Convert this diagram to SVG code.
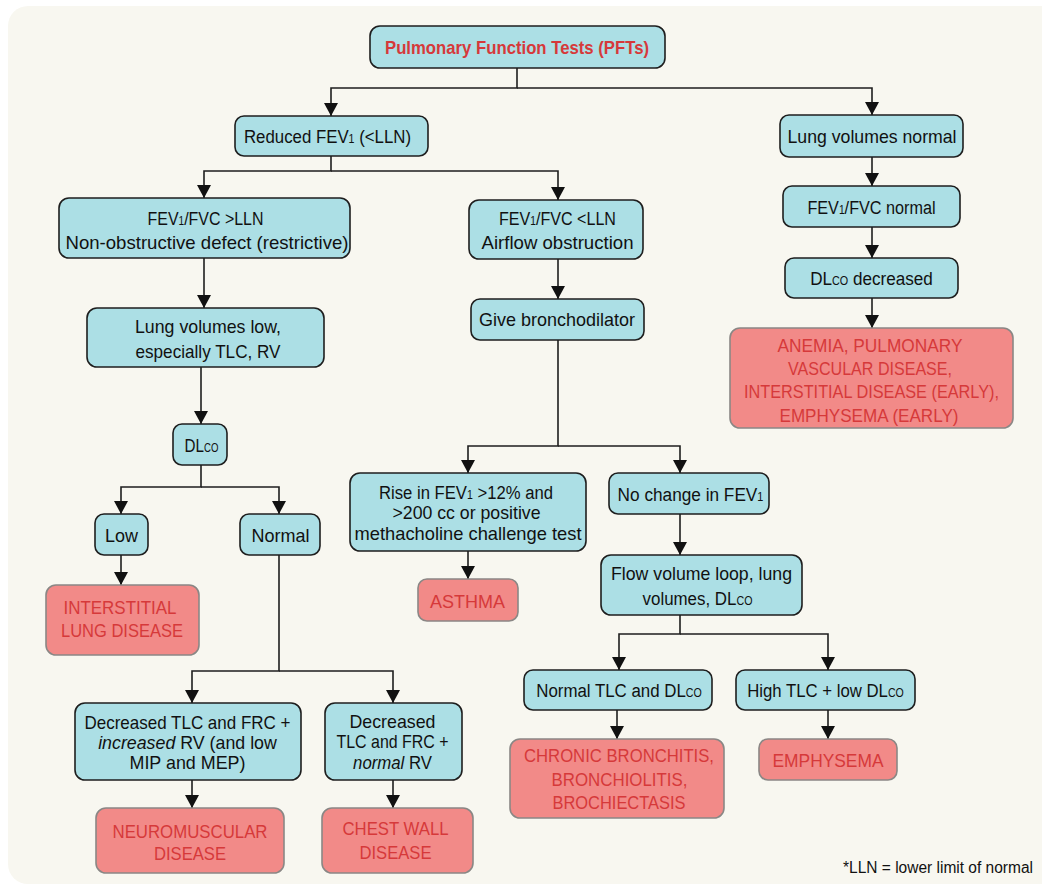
<svg xmlns="http://www.w3.org/2000/svg" width="1042" height="885" viewBox="0 0 1042 885">
<defs>
<marker id="ah" markerWidth="14" markerHeight="14" refX="13" refY="7" orient="auto" markerUnits="userSpaceOnUse"><path d="M0,0 L13,7 L0,14 z" fill="#111"/></marker>
<style>
.bg{fill:#f8f7f0}
.q rect{fill:#acdfe5;stroke:#1e1e1e;stroke-width:1.6}
.r rect{fill:#f28a88;stroke:#8a8785;stroke-width:1.6}
.q text{font-family:"Liberation Sans",Arial,sans-serif;font-size:19px;fill:#111;text-anchor:middle}
.r text{font-family:"Liberation Sans",Arial,sans-serif;font-size:18px;fill:#d6393a;text-anchor:middle}
.t text{font-weight:bold;fill:#d6393a;font-size:18.5px}
.s{font-size:12px}
.i{font-style:italic}
#conn path{fill:none;stroke:#1e1e1e;stroke-width:1.6;marker-end:url(#ah)}
.fn{font-family:"Liberation Sans",Arial,sans-serif;font-size:16px;fill:#111;text-anchor:end}
</style>
</defs>
<rect class="bg" x="8" y="6" width="1060" height="878" rx="20"/>

<g id="conn">
<path d="M517 68 V88 H331 V116"/>
<path d="M517 88 H872 V115"/>
<path d="M331 156 V171 H204 V198"/>
<path d="M331 171 H558 V200"/>
<path d="M204 258 V308"/>
<path d="M558 259 V299"/>
<path d="M201 367 V424"/>
<path d="M201 465 V487 H121 V514"/>
<path d="M201 487 H279 V514"/>
<path d="M121 555 V585"/>
<path d="M279 555 V671 H192 V703"/>
<path d="M279 671 H393 V703"/>
<path d="M192 780 V808"/>
<path d="M393 780 V808"/>
<path d="M558 340 V446 H468 V473"/>
<path d="M558 446 H680 V473"/>
<path d="M468 551 V579"/>
<path d="M680 514 V555"/>
<path d="M680 615 V634 H619 V670"/>
<path d="M680 634 H828 V670"/>
<path d="M617 710 V739"/>
<path d="M828 710 V739"/>
<path d="M872 157 V186"/>
<path d="M872 227 V258"/>
<path d="M872 298 V328"/>
</g>

<g id="pft" class="q t"><rect x="370" y="26" width="295" height="42" rx="10"/><text x="517" y="53.5" textLength="264" lengthAdjust="spacingAndGlyphs">Pulmonary Function Tests (PFTs)</text></g>

<g id="reduced" class="q"><rect x="235" y="116" width="193" height="40" rx="9"/><text transform="translate(327.5 142.5) scale(0.885 1)">Reduced FEV<tspan class="s">1</tspan> (&lt;LLN)</text></g>

<g id="restrictive" class="q"><rect x="59" y="198" width="291" height="60" rx="10"/><text transform="translate(205.5 224.5) scale(0.84 1)">FEV<tspan class="s">1</tspan>/FVC &gt;LLN</text><text x="207" y="249" textLength="283" lengthAdjust="spacingAndGlyphs">Non-obstructive defect (restrictive)</text></g>

<g id="obstruction" class="q"><rect x="469" y="200" width="174" height="59" rx="10"/><text transform="translate(557.5 224.5) scale(0.847 1)">FEV<tspan class="s">1</tspan>/FVC &lt;LLN</text><text x="557.5" y="249" textLength="152" lengthAdjust="spacingAndGlyphs">Airflow obstruction</text></g>

<g id="broncho" class="q"><rect x="471" y="299" width="173" height="41" rx="9"/><text x="557" y="326" textLength="156" lengthAdjust="spacingAndGlyphs">Give bronchodilator</text></g>

<g id="lunglow" class="q"><rect x="87" y="308" width="237" height="59" rx="10"/><text x="208" y="332.5" textLength="146" lengthAdjust="spacingAndGlyphs">Lung volumes low,</text><text x="208" y="357.5" textLength="145" lengthAdjust="spacingAndGlyphs">especially TLC, RV</text></g>

<g id="dlco" class="q"><rect x="173" y="424" width="54" height="41" rx="9"/><text transform="translate(201.5 451.5) scale(0.8 1)">DL<tspan class="s">CO</tspan></text></g>

<g id="low" class="q"><rect x="95" y="514" width="53" height="41" rx="9"/><text x="121.5" y="541.5" textLength="33" lengthAdjust="spacingAndGlyphs">Low</text></g>

<g id="normal" class="q"><rect x="240" y="514" width="80" height="41" rx="9"/><text x="280.5" y="541.5" textLength="58" lengthAdjust="spacingAndGlyphs">Normal</text></g>

<g id="ild" class="r"><rect x="46" y="585" width="153" height="70" rx="10"/><text x="120" y="613.5" textLength="113" lengthAdjust="spacingAndGlyphs">INTERSTITIAL</text><text x="122" y="636.5" textLength="122" lengthAdjust="spacingAndGlyphs">LUNG DISEASE</text></g>

<g id="incrv" class="q"><rect x="75" y="703" width="226" height="77" rx="10"/><text x="187.5" y="728.5" textLength="206" lengthAdjust="spacingAndGlyphs">Decreased TLC and FRC +</text><text transform="translate(187.5 748.5) scale(0.937 1)"><tspan class="i">increased</tspan> RV (and low</text><text x="187.5" y="768.5" textLength="116" lengthAdjust="spacingAndGlyphs">MIP and MEP)</text></g>

<g id="normrv" class="q"><rect x="325" y="703" width="137" height="77" rx="10"/><text x="392.5" y="727.5" textLength="86" lengthAdjust="spacingAndGlyphs">Decreased</text><text x="392.5" y="747.5" textLength="112" lengthAdjust="spacingAndGlyphs">TLC and FRC +</text><text transform="translate(392.5 768.5) scale(0.883 1)"><tspan class="i">normal</tspan> RV</text></g>

<g id="neuro" class="r"><rect x="96" y="808" width="188" height="65" rx="10"/><text x="190" y="837.5" textLength="155" lengthAdjust="spacingAndGlyphs">NEUROMUSCULAR</text><text x="190" y="860" textLength="72" lengthAdjust="spacingAndGlyphs">DISEASE</text></g>

<g id="chest" class="r"><rect x="322" y="808" width="151" height="65" rx="10"/><text x="395.5" y="834.5" textLength="106" lengthAdjust="spacingAndGlyphs">CHEST WALL</text><text x="395.5" y="858.5" textLength="72" lengthAdjust="spacingAndGlyphs">DISEASE</text></g>

<g id="rise" class="q"><rect x="350" y="473" width="236" height="78" rx="10"/><text transform="translate(466 498.5) scale(0.877 1)">Rise in FEV<tspan class="s">1</tspan> &gt;12% and</text><text x="466.5" y="519" textLength="148" lengthAdjust="spacingAndGlyphs">&gt;200 cc or positive</text><text x="468" y="539.5" textLength="227" lengthAdjust="spacingAndGlyphs">methacholine challenge test</text></g>

<g id="asthma" class="r"><rect x="418" y="579" width="100" height="42" rx="9"/><text x="467.5" y="608" textLength="75" lengthAdjust="spacingAndGlyphs">ASTHMA</text></g>

<g id="nochange" class="q"><rect x="609" y="473" width="160" height="41" rx="9"/><text transform="translate(690.5 500.5) scale(0.907 1)">No change in FEV<tspan class="s">1</tspan></text></g>

<g id="flow" class="q"><rect x="601" y="555" width="201" height="60" rx="10"/><text x="701.5" y="580" textLength="181" lengthAdjust="spacingAndGlyphs">Flow volume loop, lung</text><text transform="translate(697.5 605) scale(0.89 1)">volumes, DL<tspan class="s">CO</tspan></text></g>

<g id="normtlc" class="q"><rect x="524" y="670" width="188" height="40" rx="9"/><text transform="translate(619 696.5) scale(0.888 1)">Normal TLC and DL<tspan class="s">CO</tspan></text></g>

<g id="hightlc" class="q"><rect x="736" y="670" width="179" height="40" rx="9"/><text transform="translate(825.5 696.5) scale(0.882 1)">High TLC + low DL<tspan class="s">CO</tspan></text></g>

<g id="chronic" class="r"><rect x="510" y="739" width="214" height="79" rx="10"/><text x="619" y="761.5" textLength="190" lengthAdjust="spacingAndGlyphs">CHRONIC BRONCHITIS,</text><text x="619.5" y="785.5" textLength="136" lengthAdjust="spacingAndGlyphs">BRONCHIOLITIS,</text><text x="619" y="808.5" textLength="133" lengthAdjust="spacingAndGlyphs">BROCHIECTASIS</text></g>

<g id="emphysema" class="r"><rect x="759" y="739" width="138" height="41" rx="9"/><text x="828" y="766.5" textLength="111" lengthAdjust="spacingAndGlyphs">EMPHYSEMA</text></g>

<g id="lvnormal" class="q"><rect x="780" y="115" width="183" height="42" rx="9"/><text x="872" y="142.5" textLength="169" lengthAdjust="spacingAndGlyphs">Lung volumes normal</text></g>

<g id="ratio" class="q"><rect x="783" y="186" width="177" height="41" rx="9"/><text transform="translate(871.5 213.5) scale(0.854 1)">FEV<tspan class="s">1</tspan>/FVC normal</text></g>

<g id="dlcodec" class="q"><rect x="785" y="258" width="173" height="40" rx="9"/><text transform="translate(871.5 284.5) scale(0.9 1)">DL<tspan class="s">CO</tspan> decreased</text></g>

<g id="anemia" class="r"><rect x="730" y="328" width="283" height="100" rx="10"/><text x="870" y="351.5" textLength="185" lengthAdjust="spacingAndGlyphs">ANEMIA, PULMONARY</text><text x="870" y="374.5" textLength="164" lengthAdjust="spacingAndGlyphs">VASCULAR DISEASE,</text><text x="871.5" y="398" textLength="255" lengthAdjust="spacingAndGlyphs">INTERSTITIAL DISEASE (EARLY),</text><text x="869" y="421.5" textLength="179" lengthAdjust="spacingAndGlyphs">EMPHYSEMA (EARLY)</text></g>

<text class="fn" x="1033" y="873" textLength="190" lengthAdjust="spacingAndGlyphs">*LLN = lower limit of normal</text>
</svg>
